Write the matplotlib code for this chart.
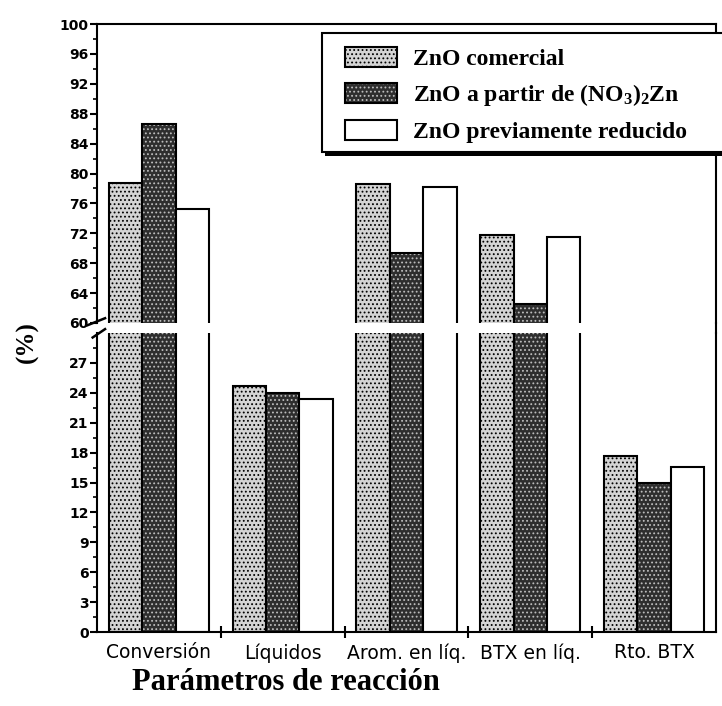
import numpy as np
import matplotlib
matplotlib.use('Agg')
import matplotlib.pyplot as plt
from matplotlib.patches import Patch, Rectangle
from matplotlib.lines import Line2D

plt.rcParams['mathtext.default'] = 'regular'
plt.rcParams['hatch.linewidth'] = 0.8

# Datos
categorias = ['Conversión', 'Líquidos', 'Arom. en líq.', 'BTX en líq.', 'Rto. BTX']
zno_comercial = [78.7, 24.7, 78.6, 71.8, 17.7]
zno_nitrato = [86.6, 24.0, 69.4, 62.6, 15.0]
zno_reducido = [75.3, 23.4, 78.2, 71.5, 16.6]
series_labels = ['ZnO comercial', 'ZnO a partir de (NO$_3$)$_2$Zn', 'ZnO previamente reducido']

W, H = 722, 706
fig = plt.figure(figsize=(W / 100, H / 100), dpi=100)

left, right = 97 / W, 716 / W
ax_top = fig.add_axes([left, 1 - 323 / H, right - left, 299 / H])
ax_bot = fig.add_axes([left, 1 - 632 / H, right - left, 299 / H])

x = np.arange(len(categorias)) + 0.5
width = 0.27
lw = 1.5

for ax in (ax_top, ax_bot):
    # ZnO comercial: gris claro punteado
    ax.bar(x - width, zno_comercial, width, facecolor='#d4d4d4', edgecolor='black',
           hatch='....', linewidth=lw)
    # ZnO nitrato: oscuro con puntos claros
    ax.bar(x, zno_nitrato, width, facecolor='#2e2e2e', edgecolor='#bdbdbd',
           hatch='....', linewidth=0)
    ax.bar(x, zno_nitrato, width, fill=False, edgecolor='black', linewidth=lw)
    # ZnO reducido: blanco
    ax.bar(x + width, zno_reducido, width, facecolor='white', edgecolor='black', linewidth=lw)
    ax.set_xlim(0, 5)
    for s in ax.spines.values():
        s.set_linewidth(1.5)
    ax.tick_params(axis='y', which='major', direction='out', length=5, width=1.5, pad=1,
                   labelsize=10)
    ax.tick_params(axis='y', which='minor', direction='out', length=3, width=1.2)

ax_top.set_ylim(60, 100)
ax_top.set_yticks(np.arange(60, 101, 4))
ax_top.set_yticks(np.arange(62, 100, 2), minor=True)
ax_top.spines['bottom'].set_visible(False)
ax_top.set_xticks([])

ax_bot.set_ylim(0, 30)
ax_bot.set_yticks(np.arange(0, 28, 3))
ax_bot.set_yticks(np.arange(1.5, 30, 1.5), minor=True)
ax_bot.spines['top'].set_visible(False)
ax_bot.set_xticks([1, 2, 3, 4])
ax_bot.set_xticklabels([])
ax_bot.set_xticks(x, minor=True)
ax_bot.set_xticklabels(categorias, minor=True, fontsize=13.5)
ax_bot.tick_params(axis='x', which='major', direction='inout', length=9, width=1.5)
ax_bot.tick_params(axis='x', which='minor', length=0, pad=8)

for ax in (ax_top, ax_bot):
    for lab in ax.get_yticklabels():
        lab.set_fontweight('bold')

# marcas de corte del eje
ax_top.plot([-0.016, 0.013], [-0.008, 0.016], transform=ax_top.transAxes,
            color='black', lw=1.8, clip_on=False)
ax_bot.plot([-0.007, 0.013], [0.985, 1.013], transform=ax_bot.transAxes,
            color='black', lw=1.8, clip_on=False)
fig.add_artist(Line2D([right, right], [1 - 323 / H, 1 - 333 / H], color='black', lw=1.5))

# etiquetas
fig.text(27 / W, 1 - 342 / H, '(%)', rotation=90, ha='center', va='center',
         fontsize=18, fontweight='bold', family='Liberation Serif')
fig.text(286 / W, 1 - 683 / H, 'Parámetros de reacción', ha='center', va='center',
         fontsize=22, fontweight='bold', family='Liberation Serif')

# marco de la leyenda con sombra
fig.add_artist(Rectangle((325 / W, 1 - 156 / H), 1.02 - 325 / W, 123 / H,
                         transform=fig.transFigure, facecolor='black', edgecolor='none'))
fig.add_artist(Rectangle((322 / W, 1 - 152 / H), 1.02 - 322 / W, 119 / H,
                         transform=fig.transFigure, facecolor='white', edgecolor='black',
                         linewidth=1.5))

handles = [
    Patch(facecolor='#d4d4d4', edgecolor='black', hatch='....', linewidth=lw),
    (Patch(facecolor='#2e2e2e', edgecolor='#bdbdbd', hatch='....', linewidth=0),
     Patch(fill=False, edgecolor='black', linewidth=lw)),
    Patch(facecolor='white', edgecolor='black', linewidth=lw),
]
leg = fig.legend(handles, series_labels, loc='upper left',
                 bbox_to_anchor=(345 / W, 1 - 47 / H),
                 prop={'family': 'Liberation Serif', 'weight': 'bold', 'size': 17},
                 handlelength=2.2, handleheight=0.95, labelspacing=0.5,
                 borderpad=0, borderaxespad=0, handletextpad=0.68, frameon=False)

fig.savefig('out.png', dpi=100)
